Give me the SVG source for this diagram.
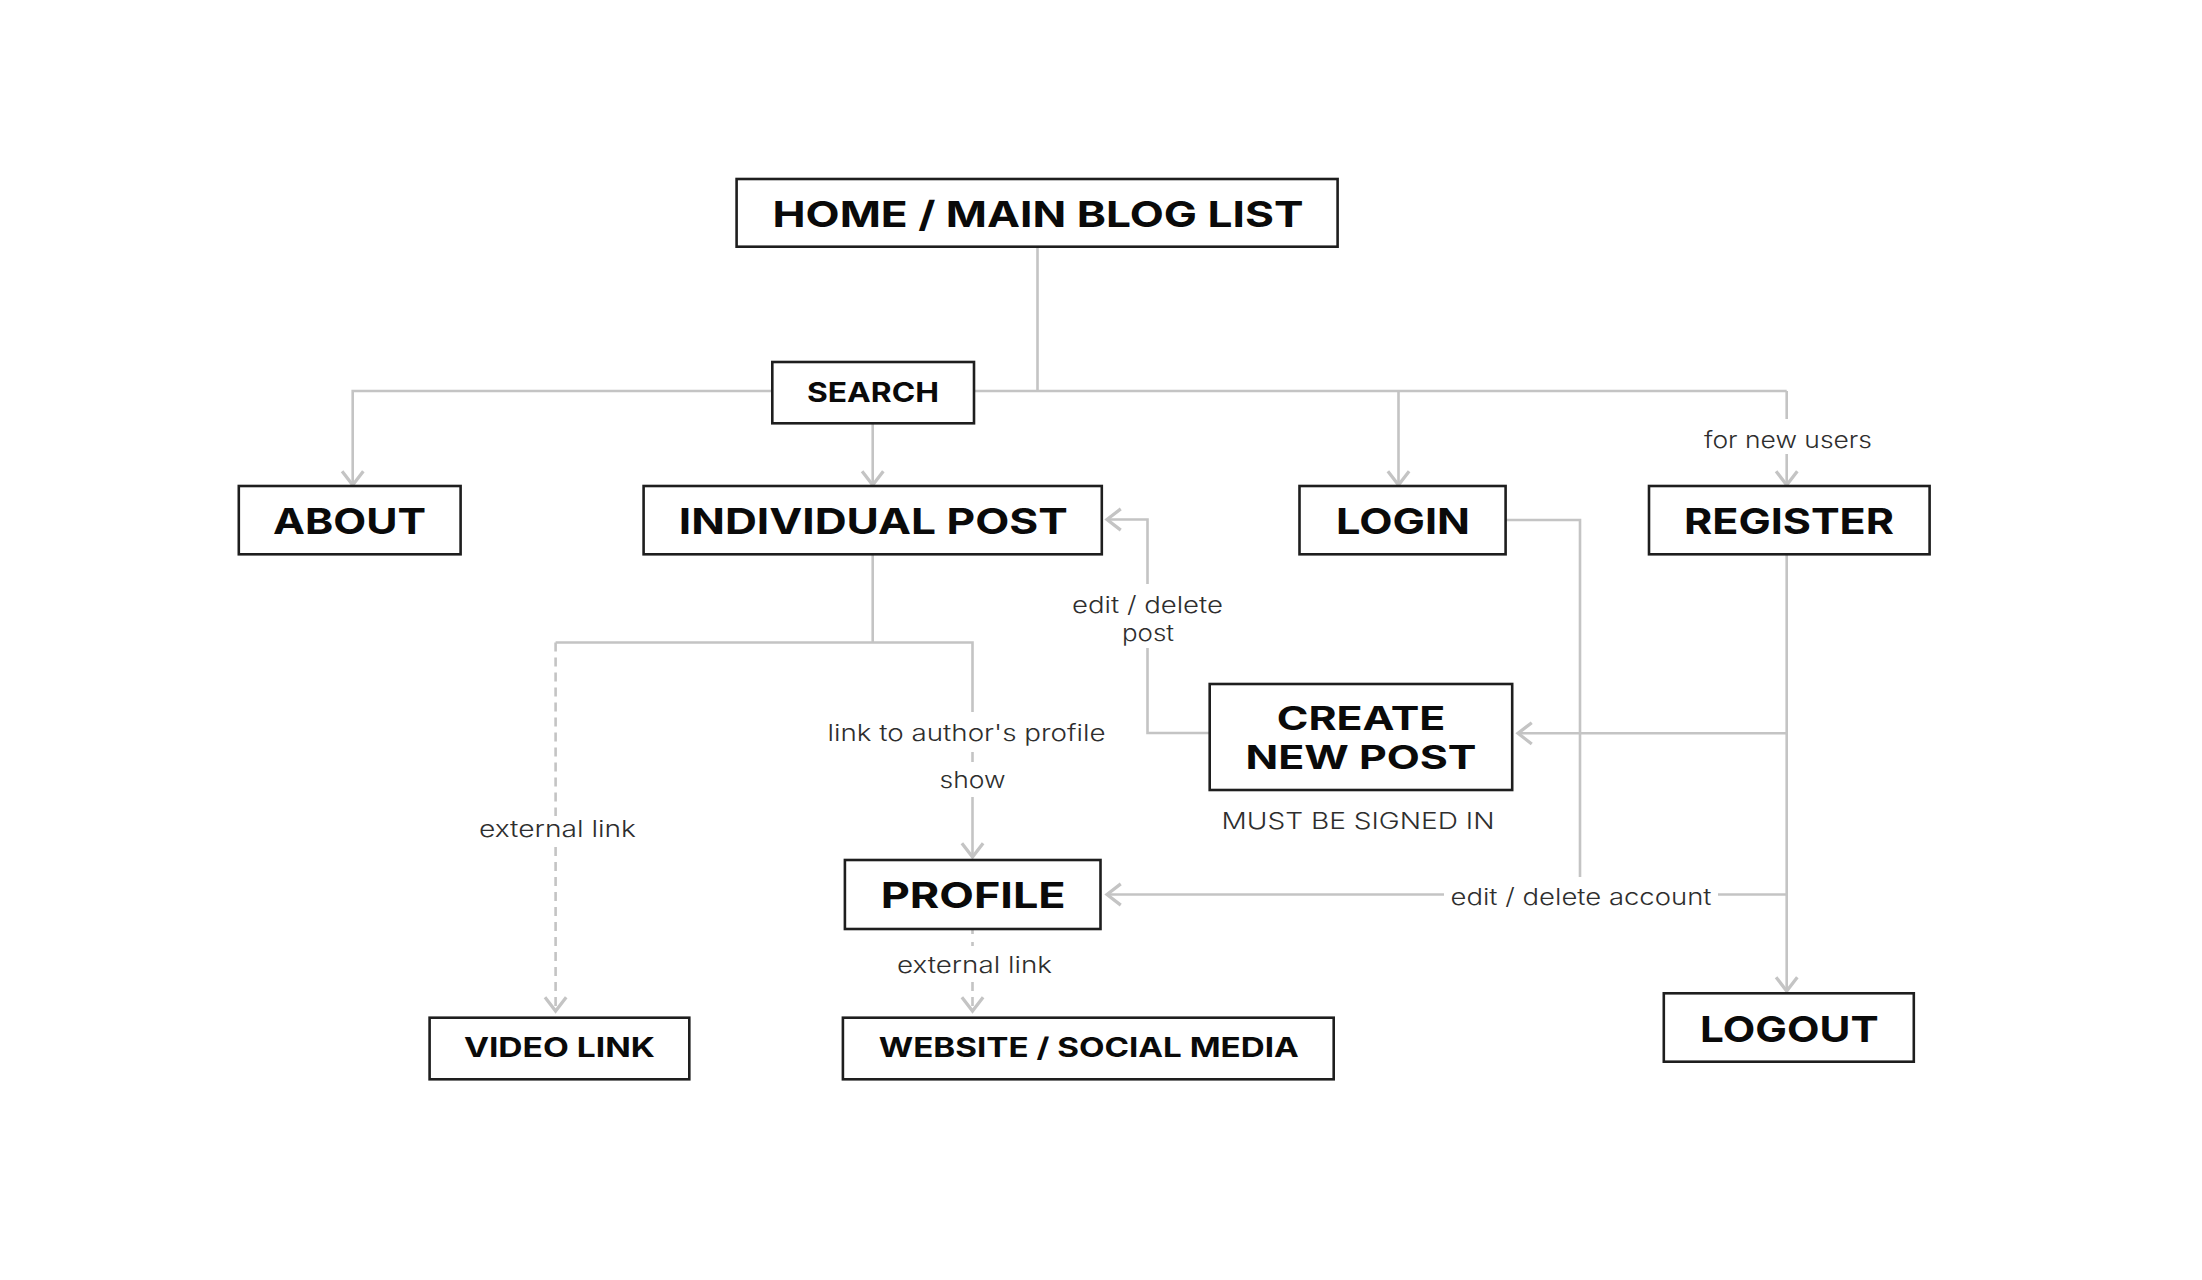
<svg xmlns="http://www.w3.org/2000/svg" width="2202" height="1280" viewBox="0 0 2202 1280">
<defs>
<style>
.bg{fill:#ffffff}
.box{fill:#ffffff;stroke:#1e1e1e;stroke-width:2.6}
.t{font-family:"Inter","Liberation Sans",sans-serif;font-weight:700;fill:#0a0a0a;text-anchor:middle}
.big{font-size:36px}
.mid{font-size:32px}
.sm{font-size:27px}
.lbl{font-family:"Inter","Open Sans","Liberation Sans",sans-serif;font-weight:300;font-size:23px;fill:#2e2e2e;text-anchor:middle}
.c{fill:none;stroke:#c4c4c4;stroke-width:2.6}
.dash{stroke-dasharray:9 6}
.dot{stroke-dasharray:4 8}
</style>
<marker id="arr" markerUnits="userSpaceOnUse" markerWidth="30" markerHeight="30" viewBox="-14 -12 16 24" refX="0" refY="0" orient="auto">
<path d="M-11,-8.5 L0,0 L-11,8.5" fill="none" stroke="#c4c4c4" stroke-width="2.6"/>
</marker>
</defs>
<rect class="bg" x="0" y="0" width="2202" height="1280"/>
<g id="connectors">
<path class="c" d="M1037.5,247 V391"/>
<path class="c" d="M1786.7,391 H352.7 V485" marker-end="url(#arr)"/>
<path class="c" d="M1398.5,391 V485" marker-end="url(#arr)"/>
<path class="c" d="M1786.7,391 V419"/>
<path class="c" d="M1786.7,454 V485" marker-end="url(#arr)"/>
<path class="c" d="M872.7,423 V485" marker-end="url(#arr)"/>
<path class="c" d="M872.7,554 V642.5"/>
<path class="c" d="M555.6,642.5 H972.5 V712"/>
<path class="c dash" d="M555.6,642.5 V816"/>
<path class="c dash" d="M555.6,847 V1011" marker-end="url(#arr)"/>
<path class="c" d="M972.5,752 V762"/>
<path class="c" d="M972.5,797 V857" marker-end="url(#arr)"/>
<path class="c" d="M1505.6,520 H1580 V877"/>
<path class="c" d="M1786.7,554 V991" marker-end="url(#arr)"/>
<path class="c" d="M1786.7,733.3 H1518" marker-end="url(#arr)"/>
<path class="c" d="M1786.7,894.5 H1718"/>
<path class="c" d="M1444,894.5 H1107" marker-end="url(#arr)"/>
<path class="c" d="M1209.5,733 H1147.5 V648"/>
<path class="c" d="M1147.5,584 V519.5 H1107" marker-end="url(#arr)"/>
<path class="c dot" d="M972.5,930 V948"/>
<path class="c dash" d="M972.5,982 V1011" marker-end="url(#arr)"/>
</g>
<g id="labels">
<text class="lbl" x="1788" y="448" textLength="168" lengthAdjust="spacingAndGlyphs">for new users</text>
<text class="lbl" x="1147.5" y="612.5" textLength="151" lengthAdjust="spacingAndGlyphs">edit / delete</text>
<text class="lbl" x="1148" y="641" textLength="52" lengthAdjust="spacingAndGlyphs">post</text>
<text class="lbl" x="966.5" y="740.5" textLength="278" lengthAdjust="spacingAndGlyphs">link to author's profile</text>
<text class="lbl" x="972.5" y="788" textLength="66" lengthAdjust="spacingAndGlyphs">show</text>
<text class="lbl" x="557.5" y="837" textLength="157" lengthAdjust="spacingAndGlyphs">external link</text>
<text class="lbl" x="974.5" y="973" textLength="155" lengthAdjust="spacingAndGlyphs">external link</text>
<text class="lbl" x="1581" y="905" textLength="261" lengthAdjust="spacingAndGlyphs">edit / delete account</text>
<text class="lbl" x="1358" y="829" textLength="273" lengthAdjust="spacingAndGlyphs">MUST BE SIGNED IN</text>
</g>
<g id="home">
<rect class="box" x="736.6" y="179" width="601" height="67.7"/>
<text class="t big" x="1038" y="226.7" textLength="531" lengthAdjust="spacingAndGlyphs">HOME / MAIN BLOG LIST</text>
</g>
<g id="search">
<rect class="box" x="772.3" y="362" width="201.7" height="61.3"/>
<text class="t sm" x="873" y="402.3" textLength="132" lengthAdjust="spacingAndGlyphs">SEARCH</text>
</g>
<g id="about">
<rect class="box" x="238.8" y="486" width="221.8" height="68.3"/>
<text class="t big" x="349.5" y="534" textLength="153" lengthAdjust="spacingAndGlyphs">ABOUT</text>
</g>
<g id="individual-post">
<rect class="box" x="643.6" y="486" width="458.2" height="68.3"/>
<text class="t big" x="873.3" y="534" textLength="389" lengthAdjust="spacingAndGlyphs">INDIVIDUAL POST</text>
</g>
<g id="login">
<rect class="box" x="1299.5" y="486" width="206.1" height="68.3"/>
<text class="t big" x="1403" y="534" textLength="134" lengthAdjust="spacingAndGlyphs">LOGIN</text>
</g>
<g id="register">
<rect class="box" x="1649" y="486" width="280.6" height="68.3"/>
<text class="t big" x="1789" y="534" textLength="210" lengthAdjust="spacingAndGlyphs">REGISTER</text>
</g>
<g id="create-new-post">
<rect class="box" x="1209.7" y="684" width="302.5" height="106"/>
<text class="t mid" x="1361" y="730" textLength="168.5" lengthAdjust="spacingAndGlyphs">CREATE</text>
<text class="t mid" x="1361" y="769.3" textLength="231" lengthAdjust="spacingAndGlyphs">NEW POST</text>
</g>
<g id="profile">
<rect class="box" x="844.9" y="860" width="255.6" height="69"/>
<text class="t big" x="973.2" y="908.3" textLength="185" lengthAdjust="spacingAndGlyphs">PROFILE</text>
</g>
<g id="video-link">
<rect class="box" x="429.6" y="1017.7" width="259.7" height="61.6"/>
<text class="t sm" x="559.4" y="1057.3" textLength="191" lengthAdjust="spacingAndGlyphs">VIDEO LINK</text>
</g>
<g id="website-social-media">
<rect class="box" x="842.9" y="1017.7" width="490.8" height="61.6"/>
<text class="t sm" x="1088.8" y="1057.3" textLength="420" lengthAdjust="spacingAndGlyphs">WEBSITE / SOCIAL MEDIA</text>
</g>
<g id="logout">
<rect class="box" x="1663.8" y="993.3" width="250" height="68.4"/>
<text class="t big" x="1789.3" y="1041.7" textLength="178.6" lengthAdjust="spacingAndGlyphs">LOGOUT</text>
</g>
</svg>
